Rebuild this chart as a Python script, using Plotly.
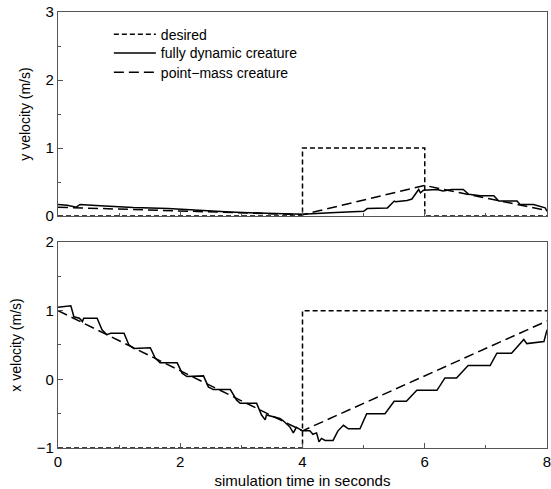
import plotly.graph_objects as go
from plotly.subplots import make_subplots

# ---- data ----
desired_top_t = [0, 4, 4, 6, 6, 8]
desired_top_v = [0, 0, 1, 1, 0, 0]
pm_top_t = [0, 4, 6, 8]
pm_top_v = [0.13, 0.02, 0.45, 0.08]
fd_top_t = [0, 0.15, 0.3, 0.36, 0.69, 1.0, 1.23, 1.8, 2.32, 2.81, 3.41, 4.0, 4.46, 5.0, 5.06, 5.22, 5.39,
            5.5, 5.52, 5.71, 5.79, 5.9, 5.93, 5.98, 6.2, 6.3, 6.44, 6.63, 6.72, 6.91, 7.13, 7.21, 7.51,
            7.56, 7.78, 7.97, 8.0]
fd_top_v = [0.17, 0.16, 0.13, 0.17, 0.15, 0.13, 0.125, 0.11, 0.08, 0.06, 0.04, 0.025, 0.05, 0.07, 0.11, 0.11, 0.12,
            0.22, 0.21, 0.23, 0.25, 0.39, 0.34, 0.38, 0.39, 0.37, 0.39, 0.39, 0.32, 0.30, 0.30, 0.22, 0.22,
            0.17, 0.17, 0.12, 0.07]

desired_bot_t = [0, 4, 4, 8]
desired_bot_v = [-1, -1, 1, 1]
pm_bot_t = [0, 4, 8]
pm_bot_v = [1.0, -0.75, 0.85]
fd_bot_t = [0, 0.21, 0.26, 0.35, 0.4, 0.42, 0.64, 0.72, 0.8, 0.86, 1.08, 1.16, 1.24, 1.51, 1.59, 1.67, 1.95,
            2.03, 2.11, 2.38, 2.46, 2.54, 2.82, 2.92, 2.98, 3.25, 3.33, 3.39, 3.41, 3.63, 3.68, 3.79, 3.85,
            3.9, 4.0, 4.12, 4.17, 4.23, 4.27, 4.31, 4.37, 4.5, 4.58, 4.67, 4.75, 4.94, 5.05, 5.35, 5.5, 5.7,
            5.87, 6.2, 6.33, 6.52, 6.71, 7.07, 7.18, 7.42, 7.62, 7.67, 7.95, 8.0]
fd_bot_v = [1.05, 1.07, 0.91, 0.89, 0.84, 0.89, 0.89, 0.72, 0.65, 0.67, 0.67, 0.5, 0.45, 0.46, 0.31, 0.24, 0.24,
            0.09, 0.04, 0.05, -0.11, -0.15, -0.15, -0.3, -0.35, -0.35, -0.52, -0.59, -0.52, -0.57, -0.6, -0.69, -0.78,
            -0.7, -0.75, -0.75, -0.8, -0.78, -0.91, -0.86, -0.89, -0.89, -0.75, -0.67, -0.72, -0.72, -0.5, -0.5, -0.32, -0.32,
            -0.16, -0.16, 0.02, 0.02, 0.2, 0.2, 0.38, 0.38, 0.58, 0.52, 0.55, 0.72]

FONT = "Liberation Sans, Arial, sans-serif"
fig = make_subplots(rows=2, cols=1, shared_xaxes=False, vertical_spacing=0.06)

short_dash = "5px,3px"
long_dash = "10px,5px"

fig.add_trace(go.Scatter(x=desired_top_t, y=desired_top_v, mode="lines", name="desired", legend="legend",
                         line=dict(color="black", width=1.5, dash=short_dash)), row=1, col=1)
fig.add_trace(go.Scatter(x=fd_top_t, y=fd_top_v, mode="lines", name="fully dynamic creature", legend="legend2",
                         line=dict(color="black", width=1.5)), row=1, col=1)
fig.add_trace(go.Scatter(x=pm_top_t, y=pm_top_v, mode="lines", name="point\u2212mass creature", legend="legend3",
                         line=dict(color="black", width=1.5, dash=long_dash)), row=1, col=1)

fig.add_trace(go.Scatter(x=desired_bot_t, y=desired_bot_v, mode="lines", showlegend=False,
                         line=dict(color="black", width=1.5, dash=short_dash)), row=2, col=1)
fig.add_trace(go.Scatter(x=fd_bot_t, y=fd_bot_v, mode="lines", showlegend=False,
                         line=dict(color="black", width=1.5)), row=2, col=1)
fig.add_trace(go.Scatter(x=pm_bot_t, y=pm_bot_v, mode="lines", showlegend=False,
                         line=dict(color="black", width=1.5, dash=long_dash)), row=2, col=1)

axcommon = dict(showline=True, mirror=True, linecolor="#555", linewidth=1.2, ticks="inside",
                ticklen=5, tickcolor="#555", showgrid=False, zeroline=False,
                tickfont=dict(family=FONT, size=15, color="black"))

fig.update_xaxes(**axcommon, range=[0, 8], dtick=2, ticklabeloverflow="allow",
                 minor=dict(ticks="inside", dtick=1, ticklen=3, tickcolor="#555", showgrid=False))
fig.update_xaxes(showticklabels=False, row=1, col=1)
fig.update_xaxes(automargin=False,
                 title=dict(text="simulation time in seconds", font=dict(family=FONT, size=15, color="black"),
                            standoff=6), row=2, col=1)
fig.update_yaxes(**axcommon, dtick=1,
                 minor=dict(ticks="inside", dtick=0.5, ticklen=3, tickcolor="#555", showgrid=False))
fig.update_yaxes(range=[0, 3], domain=[0.532, 1.0], row=1, col=1,
                 title=dict(text="y velocity (m/s)", font=dict(family=FONT, size=14, color="black"), standoff=11))
fig.update_yaxes(range=[-1, 2], domain=[0.0, 0.4726], row=2, col=1,
                 title=dict(text="x velocity (m/s)", font=dict(family=FONT, size=14, color="black"), standoff=11))

leg_common = dict(x=0.104, xanchor="left", yanchor="middle", bgcolor="rgba(0,0,0,0)",
                  font=dict(family=FONT, size=14, color="black"), itemwidth=42)
fig.update_layout(
    width=551, height=489,
    margin=dict(l=58, r=3, t=10, b=41),
    plot_bgcolor="white", paper_bgcolor="white",
    font=dict(family=FONT, size=14, color="black"),
    legend=dict(**leg_common, y=0.948),
    legend2=dict(**leg_common, y=0.905),
    legend3=dict(**leg_common, y=0.861),
    showlegend=True,
)

fig.write_html("out.html", config={"displayModeBar": False},
               post_script="document.body.style.margin='0';document.body.style.overflow='hidden';")
